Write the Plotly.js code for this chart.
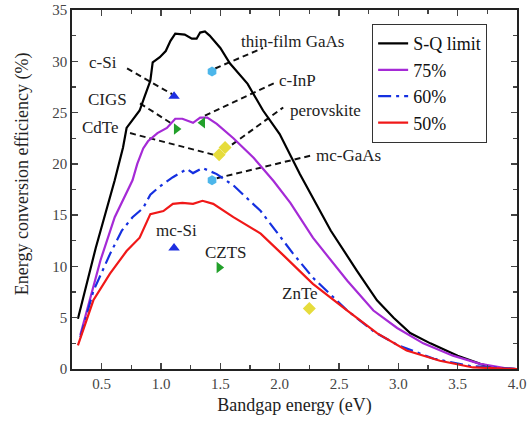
<!DOCTYPE html>
<html>
<head>
<meta charset="utf-8">
<script src="https://cdn.plot.ly/plotly-3.0.1.min.js"></script>
<style>html,body{margin:0;padding:0;background:#fff;}#chart{width:528px;height:425px;}</style>
</head>
<body>
<div id="chart"></div>
<script>
// S-Q limit
const sqX = [0.30,0.45,0.61,0.68,0.71,0.76,0.82,0.86,0.91,0.93,0.99,1.04,1.08,1.12,1.20,1.26,1.30,1.33,1.37,1.41,1.50,1.58,1.73,1.86,2.00,2.17,2.30,2.43,2.65,2.82,2.96,3.10,3.27,3.50,3.69,3.83,4.00];
const sqY = [4.9,11.8,18.4,21.6,23.5,24.3,25.2,26.5,28.1,29.9,30.4,31.0,32.0,32.7,32.6,32.2,32.2,32.8,32.9,32.5,31.3,29.8,27.8,25.2,22.9,19.0,16.2,13.5,9.6,6.7,5.0,3.5,2.5,1.3,0.5,0.05,0];
// 75%
const p75X = [0.32,0.49,0.61,0.71,0.76,0.80,0.85,0.89,0.97,1.05,1.12,1.18,1.27,1.33,1.39,1.47,1.61,1.78,1.95,2.09,2.28,2.57,2.79,2.99,3.21,3.46,3.69,3.92,4.00];
const p75Y = [3.3,10.6,14.8,17.1,18.4,20.0,21.5,22.2,23.0,23.5,24.4,24.4,24.0,24.5,24.5,23.9,22.5,20.6,18.3,16.2,12.8,8.6,5.7,4.0,2.5,1.3,0.5,0.05,0];
// 60%
const p60X = [0.32,0.43,0.57,0.67,0.76,0.85,0.91,0.99,1.10,1.22,1.27,1.35,1.47,1.61,1.84,2.00,2.11,2.28,2.57,2.80,3.00,3.30,3.60,4.00];
const p60Y = [3.1,7.6,11.2,13.5,14.8,15.7,17.0,17.8,18.7,19.5,19.1,19.6,19.0,17.9,15.4,13.0,11.3,8.9,5.7,3.6,2.3,1.0,0.3,0];
// 50%
const p50X = [0.30,0.43,0.57,0.71,0.82,0.91,1.02,1.10,1.18,1.27,1.35,1.44,1.61,1.84,2.03,2.28,2.57,2.82,3.07,3.35,3.63,4.00];
const p50Y = [2.3,6.7,9.3,11.5,12.8,15.1,15.4,16.1,16.2,16.1,16.4,16.1,14.8,13.2,11.1,8.3,5.7,3.5,1.8,0.8,0.15,0];

// record cells
const cellName = ["c-Si","thin-film GaAs","CIGS","c-InP","CdTe","perovskite","mc-GaAs","mc-Si","CZTS","ZnTe"];
const cellX = [1.11,1.43,1.13,1.35,1.49,1.54,1.43,1.11,1.49,2.25];
const cellY = [26.6,29.0,23.4,24.0,20.9,21.6,18.4,11.8,9.9,5.9];
const cellKind = ["blueTri","cyanDot","greenRight","greenLeft","yellowDia","yellowDia","cyanDot","blueTri","greenRight","yellowDia"];

// labels
const labelText = ["c-Si","CIGS","CdTe","thin-film GaAs","c-InP","perovskite","mc-GaAs","mc-Si","CZTS","ZnTe"];
const labelX = [0.51,0.545,0.486,2.11,2.15,2.39,2.58,1.13,1.55,2.17];
const labelY = [29.9,26.3,23.5,31.9,28.1,25.2,20.8,13.5,11.4,7.4];

// leader lines [x0,x1],[y0,y1]
const leadX = [[0.714,1.093],[0.823,1.093],[0.739,1.473],[1.456,1.86],[1.37,1.96],[1.53,2.03],[1.47,2.26]];
const leadY = [[29.3,26.8],[25.9,23.9],[23.0,20.8],[29.3,31.3],[24.7,27.9],[21.3,25.5],[18.6,20.8]];

const kindStyle = {
  blueTri:{symbol:"triangle-up",color:"#1d2ee0"},
  cyanDot:{symbol:"hexagon",color:"#4cb6ea"},
  greenRight:{symbol:"triangle-right",color:"#22a02a"},
  greenLeft:{symbol:"triangle-left",color:"#22a02a"},
  yellowDia:{symbol:"diamond",color:"#e6dc3c"}
};

const FONT = "'Liberation Serif', 'DejaVu Serif', serif";
const traces = [];
leadX.forEach((lx,i)=>{
  traces.push({x:lx,y:leadY[i],mode:"lines",showlegend:false,hoverinfo:"skip",
    line:{color:"#111",width:2,dash:"6px,4px"}});
});
traces.push({x:sqX,y:sqY,mode:"lines",name:"S-Q limit",line:{color:"#000",width:2.2}});
traces.push({x:p75X,y:p75Y,mode:"lines",name:"75%",line:{color:"#a52ad6",width:2.2}});
traces.push({x:p60X,y:p60Y,mode:"lines",name:"60%",line:{color:"#1530e0",width:2.2,dash:"13px,5px,3px,5px"}});
traces.push({x:p50X,y:p50Y,mode:"lines",name:"50%",line:{color:"#f01818",width:2.2}});
traces.push({x:cellX,y:cellY,text:cellName,mode:"markers",showlegend:false,hoverinfo:"text",
  marker:{size:10,symbol:cellKind.map(k=>kindStyle[k].symbol),color:cellKind.map(k=>kindStyle[k].color)}});

const annotations = labelText.map((t,i)=>({x:labelX[i],y:labelY[i],text:t,showarrow:false,
  font:{family:FONT,size:17,color:"#222"},xanchor:"center",yanchor:"middle"}));
annotations.push({xref:"paper",yref:"paper",x:-0.112,y:0.543,textangle:-90,showarrow:false,
  text:"Energy conversion efficiency (%)",font:{family:FONT,size:18,color:"#222"},
  xanchor:"center",yanchor:"middle"});

const layout = {
  width:528,height:425,
  margin:{l:72,r:11,t:10,b:56},
  paper_bgcolor:"#fff",plot_bgcolor:"#fff",
  font:{family:FONT,color:"#222"},
  showlegend:true,
  legend:{x:0.674,y:0.961,xanchor:"left",yanchor:"top",bordercolor:"#333",borderwidth:1.2,
    bgcolor:"#fff",font:{family:FONT,size:18,color:"#111"},tracegroupgap:0},
  xaxis:{range:[0.25,4.0],tick0:0.5,dtick:0.5,tickformat:".1f",ticks:"inside",ticklen:6,tickwidth:1.5,
    showline:true,linecolor:"#222",linewidth:1.8,mirror:"allticks",showgrid:false,zeroline:false,
    minor:{dtick:0.25,tick0:0.25,ticks:"inside",ticklen:4,tickwidth:1.2,showgrid:false},
    tickfont:{family:FONT,size:15,color:"#444"},
    title:{text:"Bandgap energy (eV)",font:{family:FONT,size:18,color:"#222"},standoff:8}},
  yaxis:{range:[0,35],dtick:5,ticks:"inside",ticklen:6,tickwidth:1.5,
    showline:true,linecolor:"#222",linewidth:1.8,mirror:"allticks",showgrid:false,zeroline:false,
    minor:{dtick:2.5,ticks:"inside",ticklen:4,tickwidth:1.2,showgrid:false},
    tickfont:{family:FONT,size:15,color:"#444"}},
  annotations:annotations
};
Plotly.newPlot("chart",traces,layout,{displayModeBar:false,staticPlot:true});
</script>
</body>
</html>
